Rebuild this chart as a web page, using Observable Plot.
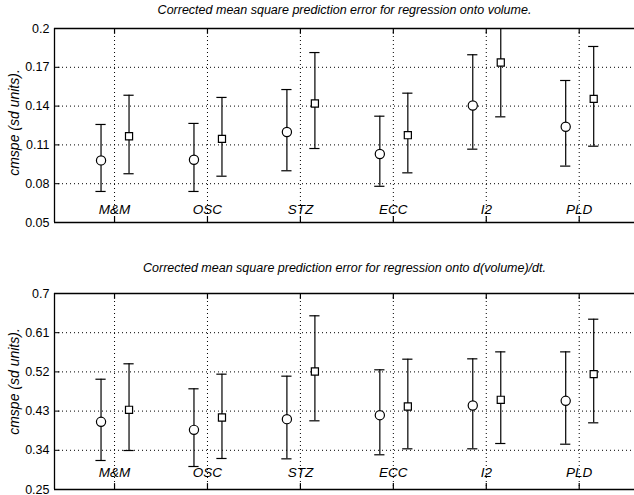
<!DOCTYPE html>
<html><head><meta charset="utf-8">
<script src="https://cdn.jsdelivr.net/npm/d3@7"></script>
<script src="https://cdn.jsdelivr.net/npm/@observablehq/plot@0.6"></script>
<style>body{margin:0;background:#fff} svg{display:block}</style>
</head><body><div id="chart"></div>
<script>
const categories = ["M&M", "OSC", "STZ", "ECC", "I2", "PLD"];

// Panel 1: regression onto volume
const volTicks = [0.05, 0.08, 0.11, 0.14, 0.17, 0.2];
const volCircleMean = [0.098, 0.0985, 0.120, 0.103, 0.1405, 0.124];
const volCircleLo   = [0.074, 0.074, 0.090, 0.078, 0.1067, 0.0936];
const volCircleHi   = [0.1258, 0.1266, 0.1528, 0.1322, 0.1797, 0.1598];
const volSquareMean = [0.1167, 0.1147, 0.142, 0.1175, 0.1737, 0.1456];
const volSquareLo   = [0.0877, 0.0858, 0.1072, 0.0884, 0.1317, 0.109];
const volSquareHi   = [0.1484, 0.1467, 0.1814, 0.150, 0.215, 0.1861];

// Panel 2: regression onto d(volume)/dt
const dvolTicks = [0.25, 0.34, 0.43, 0.52, 0.61, 0.7];
const dvolCircleMean = [0.4054, 0.387, 0.4115, 0.4206, 0.4429, 0.4536];
const dvolCircleLo   = [0.3166, 0.3028, 0.3204, 0.3297, 0.3434, 0.354];
const dvolCircleHi   = [0.5032, 0.4812, 0.5102, 0.5248, 0.550, 0.566];
const dvolSquareMean = [0.433, 0.4153, 0.5209, 0.4406, 0.456, 0.5148];
const dvolSquareLo   = [0.3395, 0.3212, 0.4077, 0.3434, 0.3556, 0.4031];
const dvolSquareHi   = [0.5386, 0.5148, 0.6488, 0.5492, 0.566, 0.641];

const FONT = "'Liberation Sans', Arial, Helvetica, sans-serif";
const xDomain = [0.354, 6.595];

function panel(o) {
  const rows = categories.map((c, k) => ({
    cat: c, i: k + 1,
    cm: o.cm[k], clo: o.clo[k], chi: o.chi[k],
    sm: o.sm[k], slo: o.slo[k], shi: o.shi[k]
  }));
  const xs = rows.map(d => d.i);
  const yd = [o.ticks[0], o.ticks[o.ticks.length - 1]];
  const span = yd[1] - yd[0];
  const inner = o.ticks.slice(1, -1);
  const cdx = -13.5, sdx = 14.5, cap = 0.055;
  const line = {stroke: "black", strokeWidth: 1.2};
  return Plot.plot({
    width: 634, height: o.height,
    marginLeft: 54, marginRight: 0, marginTop: o.marginTop, marginBottom: o.marginBottom,
    style: {fontFamily: FONT, fontSize: "12.5px", color: "black", background: "white", overflow: "visible"},
    x: {domain: xDomain, axis: null},
    y: {domain: yd, ticks: o.ticks, tickSize: 0, tickPadding: 5, label: null,
        tickFormat: d => String(+d.toFixed(2))},
    marks: [
      Plot.ruleY(inner, {stroke: "black", strokeWidth: 1, strokeDasharray: "1,3"}),
      Plot.ruleX(xs, {stroke: "black", strokeWidth: 1, strokeDasharray: "1,3"}),
      Plot.ruleY(yd, {stroke: "black", strokeWidth: 1.3}),
      Plot.ruleX([xDomain[0]], {stroke: "black", strokeWidth: 1.3}),
      Plot.ruleY(o.ticks, {x1: xDomain[0], x2: xDomain[0] + 0.06, stroke: "black"}),
      Plot.ruleX(xs, {y1: yd[0], y2: yd[0] + span * 0.03, stroke: "black", strokeWidth: 1.2}),
      Plot.ruleX(xs, {y1: yd[1], y2: yd[1] - span * 0.03, stroke: "black", strokeWidth: 1.2}),
      // circle series
      Plot.ruleX(rows, {x: "i", y1: "clo", y2: "chi", dx: cdx, ...line, clip: true}),
      Plot.ruleY(rows, {y: "clo", x1: d => d.i - cap, x2: d => d.i + cap, dx: cdx, ...line}),
      Plot.ruleY(rows, {y: "chi", x1: d => d.i - cap, x2: d => d.i + cap, dx: cdx, ...line, clip: true}),
      Plot.dot(rows, {x: "i", y: "cm", r: 4.6, stroke: "black", strokeWidth: 1.2, fill: "white", dx: cdx}),
      // square series
      Plot.ruleX(rows, {x: "i", y1: "slo", y2: "shi", dx: sdx, ...line, clip: true}),
      Plot.ruleY(rows, {y: "slo", x1: d => d.i - cap, x2: d => d.i + cap, dx: sdx, ...line}),
      Plot.ruleY(rows.filter(d => d.shi <= yd[1]), {y: "shi", x1: d => d.i - cap, x2: d => d.i + cap, dx: sdx, ...line}),
      Plot.dot(rows, {x: "i", y: "sm", r: 4, symbol: "square", stroke: "black", strokeWidth: 1.2, fill: "white", dx: sdx}),
      // category labels
      Plot.text(rows, {x: "i", y: () => o.labelY, text: "cat", fontStyle: "italic", fontSize: 13.5, fill: "black"}),
      // title
      Plot.text([o.title], {frameAnchor: "top", dy: o.titleDy, fontStyle: "italic", fontSize: 12.5, fill: "black"}),
      // y label
      Plot.text(["cmspe (sd units)."], {frameAnchor: "left", dx: -40, dy: o.labelDy, rotate: -90,
        textAnchor: "middle", lineAnchor: "middle", fontStyle: "italic", fontSize: 14, fill: "black"})
    ]
  });
}

const chart = document.getElementById("chart");
chart.appendChild(panel({
  title: "Corrected mean square prediction error for regression onto volume.",
  ticks: volTicks, cm: volCircleMean, clo: volCircleLo, chi: volCircleHi,
  sm: volSquareMean, slo: volSquareLo, shi: volSquareHi,
  height: 248, marginTop: 28, marginBottom: 26, titleDy: -23, labelY: 0.060, labelDy: -3
}));
chart.appendChild(panel({
  title: "Corrected mean square prediction error for regression onto d(volume)/dt.",
  ticks: dvolTicks, cm: dvolCircleMean, clo: dvolCircleLo, chi: dvolCircleHi,
  sm: dvolSquareMean, slo: dvolSquareLo, shi: dvolSquareHi,
  height: 247, marginTop: 45, marginBottom: 6, titleDy: -30, labelY: 0.289, labelDy: -10
}));
</script>
</body></html>
